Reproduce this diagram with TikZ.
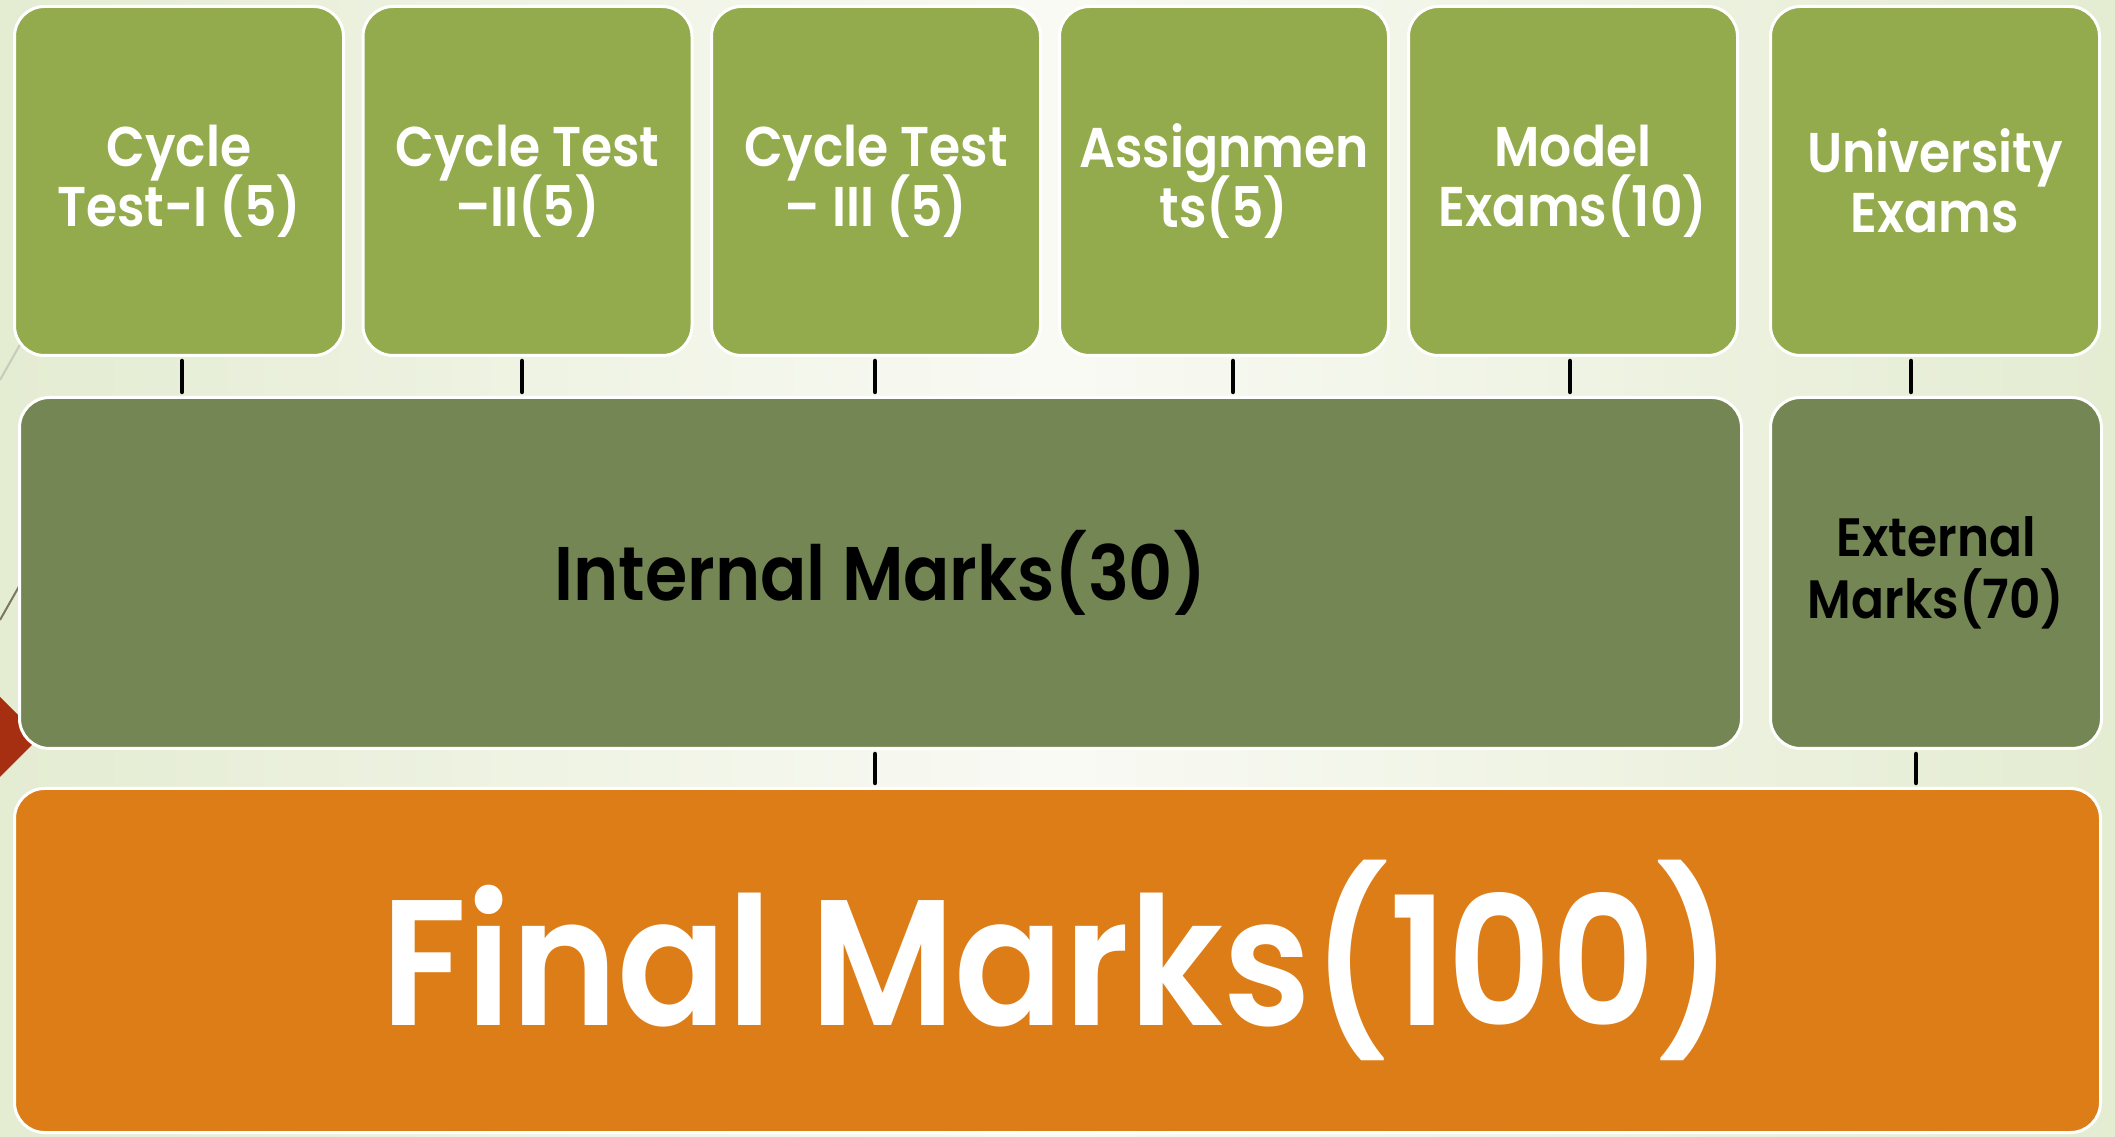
\documentclass[tikz,border=0pt]{standalone}
\usepackage{fontspec}
\setmainfont{Poppins}[BoldFont={Poppins SemiBold}, FakeStretch=0.9]
\usepackage{tikz}
\usetikzlibrary{positioning}
\usepackage{xcolor}
\definecolor{mkolive}{RGB}{147,170,77}
\definecolor{mkmoss}{RGB}{115,134,83}
\definecolor{mkorange}{RGB}{221,125,24}
\definecolor{mkred}{RGB}{166,47,18}
\definecolor{bgside}{RGB}{228,236,210}
\definecolor{bgmid}{RGB}{249,250,244}
\definecolor{lnlight}{RGB}{200,203,185}
\definecolor{lndark}{RGB}{125,118,97}
\tikzstyle{topbox} = [rectangle, rounded corners=30pt, minimum width=329pt, minimum height=349pt, inner sep=0pt, draw=white, line width=3pt, fill=mkolive, text=white, align=center, font={\bfseries\fontsize{56}{60}\selectfont\lineskiplimit=-200pt}]
\tikzstyle{midbox} = [rectangle, rounded corners=30pt, minimum height=351pt, inner sep=0pt, draw=white, line width=3pt, fill=mkmoss, text=black, align=center]
\tikzstyle{finalbox} = [rectangle, rounded corners=30pt, minimum width=2086pt, minimum height=344pt, inner sep=0pt, draw=white, line width=3pt, fill=mkorange, text=white, font=\bfseries\fontsize{179}{180}\selectfont]
\tikzstyle{link} = [line width=4.5pt, line cap=round, color=black, shorten <=4pt, shorten >=4pt]

\begin{document}
\begin{tikzpicture}[x=1pt,y=1pt]
\useasboundingbox (0,0) rectangle (2115,1136);
% Background
\shade[left color=bgside, right color=bgside, middle color=bgmid] (0,0) rectangle (2115,1136);
\draw[lnlight, line width=2pt] (0,756) -- (30,809);
\draw[lndark, line width=2pt] (0,516) -- (30,569);
\fill[mkred] (0,439) -- (40,399) -- (0,359) -- cycle;

% Assessment components
\node[topbox] (cyc1) at (179,955) {Cycle\\Test-I (5)};
\node[topbox] (cyc2) at (527.5,955) {Cycle Test\\–II(5)};
\node[topbox] (cyc3) at (876,955) {Cycle Test\\– III (5)};
\node[topbox] (assign) at (1224,955) {Assignmen\\ts(5)};
\node[topbox] (model) at (1573,955) {Model\\Exams(10)};
\node[topbox] (uni) at (1935,955) {University\\Exams};

% Internal and external marks
\node[midbox, minimum width=1722pt, font=\bfseries\fontsize{76}{80}\selectfont] (internal) at (880.5,563) {Internal Marks(30)};
\node[midbox, minimum width=331pt, font={\bfseries\fontsize{54}{62}\selectfont\lineskiplimit=-200pt}] (external) at (1936,563) {External\\Marks(70)};

% Final marks
\node[finalbox] (final) at (1057.5,175.5) {Final Marks(100)};

% Connectors
\draw[link] ([xshift=3pt]cyc1.south) -- ([xshift=3pt]cyc1.south |- internal.north);
\draw[link] ([xshift=-5.5pt]cyc2.south) -- ([xshift=-5.5pt]cyc2.south |- internal.north);
\draw[link] ([xshift=-1pt]cyc3.south) -- ([xshift=-1pt]cyc3.south |- internal.north);
\draw[link] ([xshift=9pt]assign.south) -- ([xshift=9pt]assign.south |- internal.north);
\draw[link] ([xshift=-3pt]model.south) -- ([xshift=-3pt]model.south |- internal.north);
\draw[link] ([xshift=-24pt]uni.south) -- ([xshift=-24pt]uni.south |- external.north);
\draw[link] ([xshift=-5.5pt]internal.south) -- ([xshift=-5.5pt]internal.south |- final.north);
\draw[link] ([xshift=-20pt]external.south) -- ([xshift=-20pt]external.south |- final.north);
\end{tikzpicture}
\end{document}
